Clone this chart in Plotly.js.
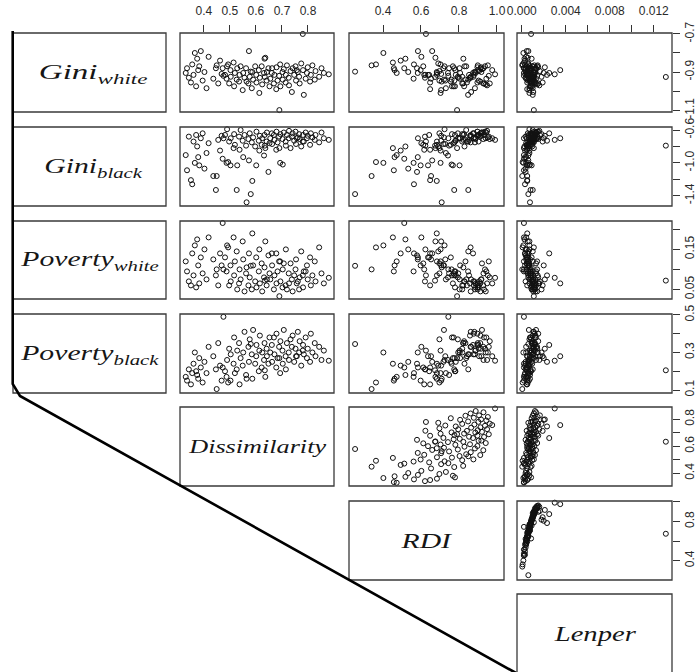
<!DOCTYPE html>
<html><head><meta charset="utf-8">
<script src="https://cdn.plot.ly/plotly-3.0.1.min.js"></script>
<style>html,body{margin:0;padding:0;background:#fff}</style>
</head><body>
<div id="chart" style="width:698px;height:672px"></div>
<script>
// ---- data (one entry per observation, same order in every array) ----
const dissimilarity = [
 0.634, 0.780, 0.690, 0.564, 0.580, 0.880, 0.757, 0.472, 0.475,
 0.330, 0.335, 0.342, 0.350, 0.355, 0.360, 0.365, 0.370, 0.374, 0.378, 0.382, 0.388, 0.395, 0.402, 0.410, 0.418, 0.449, 0.436, 0.446, 0.455, 0.462, 0.468,
 0.481, 0.487, 0.489, 0.497, 0.502, 0.503, 0.514, 0.516, 0.519, 0.526, 0.528, 0.535, 0.537, 0.541, 0.549, 0.551, 0.556, 0.562, 0.571, 0.573,
 0.576, 0.584, 0.586, 0.589, 0.597, 0.601, 0.602, 0.611, 0.613, 0.615, 0.622, 0.624, 0.631, 0.633, 0.636, 0.641, 0.642, 0.648, 0.652, 0.493,
 0.655, 0.661, 0.662, 0.669, 0.671, 0.678, 0.679, 0.683, 0.689, 0.693, 0.694, 0.702, 0.703, 0.707, 0.714, 0.715, 0.719, 0.726, 0.727, 0.733,
 0.738, 0.741, 0.747, 0.752, 0.754, 0.761, 0.766, 0.768, 0.774, 0.781, 0.784, 0.791, 0.796, 0.799, 0.808, 0.811, 0.817, 0.826, 0.829, 0.843, 0.852, 0.861
];
const rdi = [
 0.674, 0.626, 0.790, 0.709, 0.253, 0.990, 0.975, 0.512, 0.744,
 0.472, 0.457, 0.621, 0.648, 0.563, 0.684, 0.402, 0.779, 0.518, 0.461, 0.768, 0.584, 0.697, 0.533, 0.731, 0.602, 0.340, 0.653, 0.775, 0.822, 0.493, 0.706,
 0.643, 0.561, 0.724, 0.817, 0.598, 0.876, 0.452, 0.763, 0.684, 0.849, 0.803, 0.912, 0.617, 0.838, 0.706, 0.583, 0.862, 0.748, 0.928, 0.659,
 0.794, 0.884, 0.683, 0.721, 0.829, 0.637, 0.897, 0.781, 0.703, 0.858, 0.612, 0.941, 0.742, 0.823, 0.676, 0.903, 0.918, 0.579, 0.772, 0.363,
 0.804, 0.874, 0.718, 0.932, 0.853, 0.648, 0.897, 0.776, 0.957, 0.703, 0.827, 0.886, 0.761, 0.921, 0.842, 0.623, 0.899, 0.796, 0.948, 0.697,
 0.864, 0.913, 0.783, 0.937, 0.728, 0.881, 0.817, 0.962, 0.691, 0.902, 0.848, 0.944, 0.806, 0.916, 0.757, 0.878, 0.952, 0.834, 0.906, 0.861, 0.929, 0.888
];
const lenper = [
 0.0131, 0.00085, 0.0011, 0.00075, 0.0006, 0.0030, 0.0035, 0.0002, 0.0002,
 0.0002, 0.0002, 0.00035, 0.0005, 0.0003, 0.0006, 0.00015, 0.00085, 0.00025, 0.0003, 0.0007, 0.00045, 0.00055, 0.00035, 0.0007, 0.0004, 0.00005, 0.0005, 0.0008, 0.0009, 0.0003, 0.00065,
 0.0006, 0.0004, 0.0007, 0.00095, 0.0005, 0.0011, 0.0002, 0.0008, 0.00055, 0.0010, 0.0009, 0.0012, 0.00045, 0.0010, 0.0007, 0.0004, 0.00105, 0.00075, 0.0013, 0.0006,
 0.00085, 0.0010, 0.0005, 0.00065, 0.00095, 0.0005, 0.00115, 0.0008, 0.0007, 0.0010, 0.00045, 0.0014, 0.0006, 0.0009, 0.00055, 0.0011, 0.00125, 0.00035, 0.00075, 0.00008,
 0.00085, 0.0025, 0.00065, 0.0012, 0.0010, 0.0005, 0.0015, 0.0008, 0.0014, 0.0006, 0.00095, 0.0011, 0.00075, 0.0013, 0.0019, 0.00045, 0.00115, 0.00085, 0.0016, 0.0007,
 0.00105, 0.00125, 0.0023, 0.0014, 0.00075, 0.0011, 0.0018, 0.0015, 0.0006, 0.0012, 0.0010, 0.0013, 0.0020, 0.0021, 0.0009, 0.00115, 0.00145, 0.0010, 0.00165, 0.0011, 0.0013, 0.0012
];
const giniWhite = [
 -0.926, -0.700, -1.100, -0.950, -0.898, -0.912, -0.890, -0.880, -0.920,
 -0.905, -0.880, -0.930, -0.955, -0.860, -0.915, -0.800, -0.975, -0.830, -0.890, -0.870, -0.790, -0.945, -0.900, -0.985, -0.820, -0.865, -0.935, -0.880, -0.960, -0.840, -0.910,
 -0.915, -0.935, -0.870, -0.960, -0.890, -0.925, -0.850, -0.975, -0.905, -0.940, -0.880, -0.950, -0.915, -0.870, -0.995, -0.905, -0.930, -0.880, -0.960, -0.790,
 -0.925, -0.985, -0.900, -0.940, -0.870, -0.915, -0.955, -0.890, -1.010, -0.930, -0.870, -0.965, -0.905, -0.830, -0.825, -0.945, -0.900, -0.880, -0.975, -0.860,
 -0.935, -0.905, -0.880, -0.960, -0.915, -0.990, -0.875, -0.945, -0.920, -0.860, -0.975, -0.900, -0.940, -0.885, -0.955, -0.915, -0.865, -0.930, -0.970, -0.895,
 -1.005, -0.880, -0.915, -0.870, -0.945, -0.900, -0.925, -0.960, -0.855, -0.890, -1.020, -0.935, -0.905, -0.875, -0.950, -0.915, -0.865, -0.940, -0.895, -0.925, -0.880, -0.905
];
const giniBlack = [
 -0.79, -0.74, -0.82, -1.48, -1.38, -0.72, -0.70, -0.95, -0.70,
 -0.905, -1.09, -0.68, -1.21, -1.26, -0.74, -1.00, -0.66, -0.80, -0.93, -1.03, -0.70, -0.64, -1.07, -0.88, -0.76, -1.16, -1.16, -1.33, -0.72, -0.85, -0.67,
 -0.66, -1.00, -0.59, -0.74, -1.03, -0.70, -0.82, -0.65, -0.78, -1.33, -1.03, -0.68, -0.84, -0.60, -0.73, -0.93, -0.66, -0.79, -0.71, -0.97,
 -0.64, -0.75, -1.22, -0.69, -0.80, -1.03, -0.62, -0.73, -0.85, -0.67, -0.78, -0.70, -0.91, -0.66, -0.82, -0.74, -0.63, -1.11, -0.76, -0.99,
 -0.70, -0.64, -0.77, -0.66, -0.72, -0.84, -0.62, -0.75, -0.68, -1.00, -0.65, -0.71, -1.02, -0.63, -0.74, -0.79, -0.66, -0.70, -0.61, -0.82,
 -0.68, -0.64, -0.73, -0.62, -0.77, -0.69, -0.65, -0.71, -0.80, -0.66, -0.74, -0.63, -0.70, -0.67, -0.78, -0.64, -0.69, -0.72, -0.66, -0.75, -0.63, -0.70
];
const povertyWhite = [
 0.072, 0.085, 0.033, 0.105, 0.109, 0.079, 0.065, 0.216, 0.100,
 0.120, 0.095, 0.070, 0.060, 0.140, 0.085, 0.160, 0.055, 0.175, 0.110, 0.065, 0.130, 0.090, 0.150, 0.075, 0.180, 0.100, 0.125, 0.085, 0.060, 0.140, 0.110,
 0.130, 0.095, 0.160, 0.060, 0.110, 0.070, 0.180, 0.085, 0.120, 0.145, 0.050, 0.065, 0.100, 0.075, 0.170, 0.125, 0.045, 0.090, 0.060, 0.140,
 0.080, 0.050, 0.190, 0.110, 0.070, 0.130, 0.055, 0.095, 0.150, 0.065, 0.115, 0.045, 0.080, 0.105, 0.170, 0.060, 0.075, 0.135, 0.090, 0.155,
 0.075, 0.140, 0.110, 0.050, 0.085, 0.140, 0.065, 0.095, 0.120, 0.120, 0.070, 0.055, 0.100, 0.115, 0.060, 0.150, 0.050, 0.090, 0.065, 0.115,
 0.075, 0.045, 0.085, 0.100, 0.125, 0.070, 0.050, 0.080, 0.145, 0.055, 0.095, 0.095, 0.110, 0.075, 0.130, 0.060, 0.085, 0.120, 0.070, 0.155, 0.090, 0.065
];
const povertyBlack = [
 0.205, 0.310, 0.270, 0.160, 0.345, 0.256, 0.280, 0.220, 0.490,
 0.170, 0.150, 0.210, 0.130, 0.190, 0.240, 0.300, 0.200, 0.180, 0.160, 0.270, 0.220, 0.140, 0.250, 0.190, 0.330, 0.105, 0.280, 0.210, 0.350, 0.230, 0.150,
 0.200, 0.170, 0.260, 0.320, 0.150, 0.290, 0.240, 0.380, 0.190, 0.210, 0.310, 0.350, 0.130, 0.270, 0.230, 0.300, 0.410, 0.180, 0.330, 0.250,
 0.370, 0.290, 0.160, 0.420, 0.240, 0.280, 0.340, 0.200, 0.310, 0.390, 0.220, 0.300, 0.260, 0.350, 0.170, 0.320, 0.280, 0.240, 0.380, 0.140,
 0.300, 0.340, 0.250, 0.380, 0.290, 0.220, 0.400, 0.270, 0.330, 0.190, 0.360, 0.310, 0.240, 0.420, 0.280, 0.210, 0.350, 0.300, 0.260, 0.370,
 0.330, 0.390, 0.250, 0.320, 0.280, 0.410, 0.300, 0.360, 0.230, 0.340, 0.290, 0.380, 0.270, 0.320, 0.250, 0.400, 0.300, 0.350, 0.280, 0.330, 0.260, 0.310
];

// ---- labels and tick labels ----
const varLabels = [
 '<i>Gini</i><sub><i>white</i></sub>',
 '<i>Gini</i><sub><i>black</i></sub>',
 '<i>Poverty</i><sub><i>white</i></sub>',
 '<i>Poverty</i><sub><i>black</i></sub>',
 '<i>Dissimilarity</i>',
 '<i>RDI</i>',
 '<i>Lenper</i>'
];
// top axes: labelled ticks + unlabelled (minor) ticks
const dissTopVals = [0.4, 0.5, 0.6, 0.7, 0.8];
const dissTopText = ['0.4', '0.5', '0.6', '0.7', '0.8'];
const rdiTopVals = [0.4, 0.6, 0.8, 1.0];
const rdiTopText = ['0.4', '0.6', '0.8', '1.0'];
const lenperTopVals = [0, 0.004, 0.008, 0.012];
const lenperTopText = ['0.000', '0.004', '0.008', '0.012'];
const lenperMinorVals = [0.002, 0.006, 0.010];
// right axes
const giniWhiteVals = [-1.1, -0.9, -0.7];
const giniWhiteText = ['-1.1', '-0.9', '-0.7'];
const giniWhiteMinor = [-1.0, -0.8];
const giniBlackVals = [-1.4, -1.0, -0.6];
const giniBlackText = ['-1.4', '-1.0', '-0.6'];
const giniBlackMinor = [-1.2, -0.8];
const povWhiteVals = [0.05, 0.15];
const povWhiteText = ['0.05', '0.15'];
const povWhiteMinor = [0.10, 0.20];
const povBlackVals = [0.1, 0.3, 0.5];
const povBlackText = ['0.1', '0.3', '0.5'];
const povBlackMinor = [0.2, 0.4];
const dissRightVals = [0.4, 0.6, 0.8];
const dissRightText = ['0.4', '0.6', '0.8'];
const dissRightMinor = [0.5, 0.7];
const rdiRightVals = [0.4, 0.8];
const rdiRightText = ['0.4', '0.8'];
const rdiRightMinor = [0.6, 1.0];

// ---- layout geometry (pixels) ----
const W = 698, H = 672;
const colBoxes = [[13,166],[180,334],[349,504],[517,672]];
const rowBoxes = [[33,112],[127,206],[221,299],[314,393],[407,486],[501,580],[594,682]];
const rowRanges = [[-1.11,-0.695],[-1.525,-0.563],[0.026,0.221],[0.084,0.505],[0.306,0.891],[0.204,1.007]];
const colRanges = [null,[0.308,0.9],[0.221,1.037],[-0.00043,0.01366]];
const labelSize = [22, 22, 22, 22, 19, 22, 22];
const labelStretch = [1.5, 1.35, 1.35, 1.35, 1.38, 1.35, 1.3];

const rowSeries = [giniWhite, giniBlack, povertyWhite, povertyBlack, dissimilarity, rdi];
const colSeries = [null, dissimilarity, rdi, lenper];
const rowTicks = [
  [giniWhiteVals, giniWhiteText, giniWhiteMinor],
  [giniBlackVals, giniBlackText, giniBlackMinor],
  [povWhiteVals, povWhiteText, povWhiteMinor],
  [povBlackVals, povBlackText, povBlackMinor],
  [dissRightVals, dissRightText, dissRightMinor],
  [rdiRightVals, rdiRightText, rdiRightMinor]
];
const colTicks = [null,
  [dissTopVals, dissTopText, []],
  [rdiTopVals, rdiTopText, []],
  [lenperTopVals, lenperTopText, lenperMinorVals]];

const tickFont = {family: 'Liberation Sans, Arial, sans-serif', size: 12, color: '#2a2a2a'};
const boxLine = {color: '#3a3a3a', width: 1.3};

const traces = [];
const layout = {
  width: W, height: H, margin: {l:0, r:0, t:0, b:0},
  paper_bgcolor: '#ffffff', plot_bgcolor: 'rgba(0,0,0,0)',
  showlegend: false, shapes: [], annotations: []
};
function box(c, r) {
  return {type:'rect', xref:'paper', yref:'paper',
    x0: colBoxes[c][0]/W, x1: colBoxes[c][1]/W,
    y0: 1 - rowBoxes[r][1]/H, y1: 1 - rowBoxes[r][0]/H,
    line: boxLine, fillcolor: 'rgba(0,0,0,0)', layer: 'above'};
}
let k = 0;
for (let r = 0; r < 6; r++) {
  for (let c = 1; c <= 3; c++) {
    if (r === 4 && c < 2) continue;
    if (r === 5 && c < 3) continue;
    k++;
    const sfx = k === 1 ? '' : String(k);
    traces.push({
      type: 'scatter', mode: 'markers',
      x: colSeries[c], y: rowSeries[r],
      xaxis: 'x' + sfx, yaxis: 'y' + sfx,
      marker: {symbol: 'circle-open', size: 5, color: '#111', line: {width: 1}},
      cliponaxis: false, hoverinfo: 'skip'
    });
    const topOn = r === 0, rightOn = c === 3;
    layout['xaxis' + sfx] = {
      domain: [colBoxes[c][0]/W, colBoxes[c][1]/W], range: colRanges[c],
      anchor: 'y' + sfx, side: 'top',
      showgrid: false, zeroline: false, showline: false,
      ticks: topOn ? 'outside' : '', showticklabels: topOn,
      tickmode: 'array', tickvals: colTicks[c][0], ticktext: colTicks[c][1],
      ticklen: 7, tickwidth: 1, tickcolor: '#333', tickfont: tickFont,
      ticklabelstandoff: 5, fixedrange: true,
      minor: {tickmode: 'array', tickvals: colTicks[c][2], ticks: topOn ? 'outside' : '',
              ticklen: 7, tickwidth: 1, tickcolor: '#333', showgrid: false}
    };
    layout['yaxis' + sfx] = {
      domain: [1 - rowBoxes[r][1]/H, 1 - rowBoxes[r][0]/H], range: rowRanges[r],
      anchor: 'x' + sfx, side: 'right',
      showgrid: false, zeroline: false, showline: false,
      ticks: rightOn ? 'outside' : '', showticklabels: rightOn,
      tickmode: 'array', tickvals: rowTicks[r][0], ticktext: rowTicks[r][1],
      tickangle: -90,
      ticklen: 7, tickwidth: 1, tickcolor: '#333', tickfont: tickFont,
      ticklabelstandoff: 0, fixedrange: true,
      minor: {tickmode: 'array', tickvals: rowTicks[r][2], ticks: rightOn ? 'outside' : '',
              ticklen: 7, tickwidth: 1, tickcolor: '#333', showgrid: false}
    };
    layout.shapes.push(box(c, r));
  }
}
// diagonal label boxes
const diag = [[0,0],[0,1],[0,2],[0,3],[1,4],[2,5],[3,6]];
diag.forEach(([c, r], i) => {
  layout.shapes.push(box(c, r));
  const cx = (colBoxes[c][0] + colBoxes[c][1]) / 2 + (i < 2 ? 4 : 0);
  const cy = r === 6 ? 633 : (rowBoxes[r][0] + rowBoxes[r][1]) / 2;
  layout.annotations.push({
    xref: 'paper', yref: 'paper', x: cx / W, y: 1 - cy / H,
    xanchor: 'center', yanchor: 'middle', showarrow: false,
    text: varLabels[i],
    font: {family: 'Liberation Serif, Times New Roman, serif', size: labelSize[i], color: '#161616'}
  });
});
// the thick bracket line
layout.shapes.push({
  type: 'path', xref: 'paper', yref: 'paper',
  path: 'M ' + (12.7/W) + ',' + (1 - 31/H) + ' L ' + (12.7/W) + ',' + (1 - 384/H) +
        ' L ' + (20/W) + ',' + (1 - 396/H) + ' L ' + (516/W) + ',' + (1 - 673/H),
  line: {color: '#000', width: 2.6}, layer: 'above'
});

Plotly.newPlot('chart', traces, layout, {staticPlot: true, displayModeBar: false}).then(gd => {
  gd.querySelectorAll('.annotation-text').forEach((t, i) => {
    t.style.transformBox = 'fill-box';
    t.style.transformOrigin = '50% 50%';
    t.style.transform = 'scaleX(' + labelStretch[i] + ')';
  });
});
</script>
</body></html>
